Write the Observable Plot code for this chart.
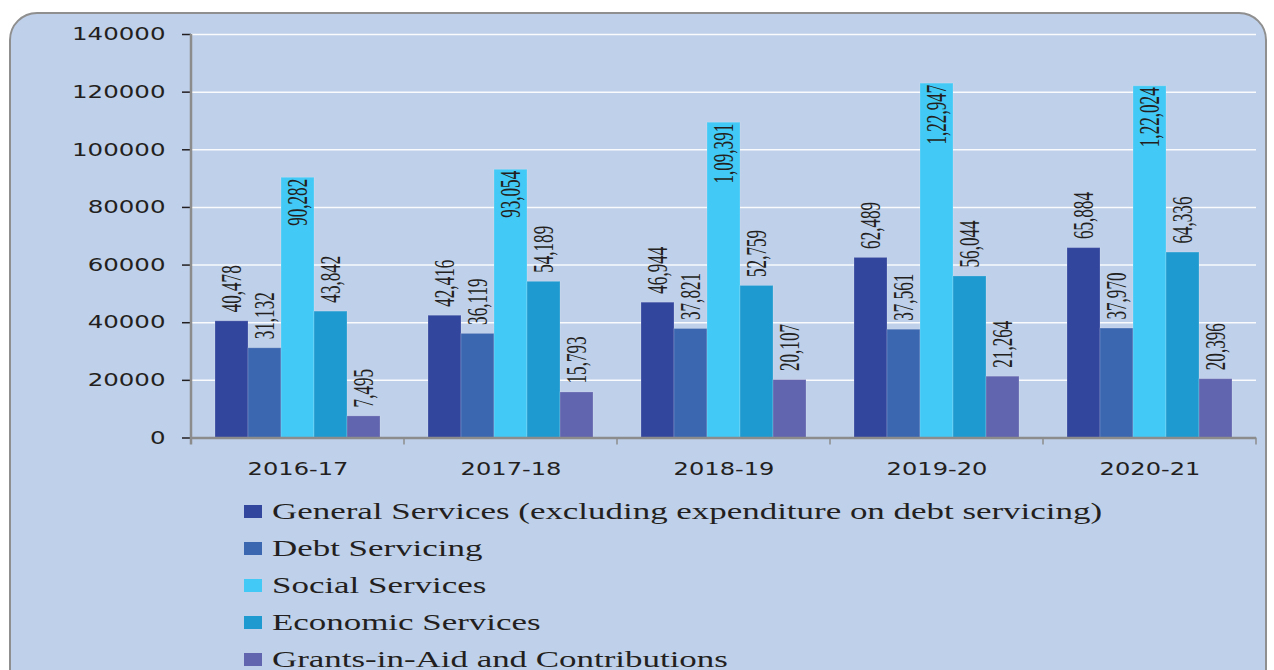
<!DOCTYPE html>
<html>
<head>
<meta charset="utf-8">
<script src="https://cdn.jsdelivr.net/npm/d3@7"></script>
<script src="https://cdn.jsdelivr.net/npm/@observablehq/plot@0.6"></script>
<style>
  html, body { margin: 0; padding: 0; background: #ffffff; width: 1274px; height: 670px; overflow: hidden; }
  #panel { position: absolute; left: 9px; top: 12px; width: 1258px; height: 700px; box-sizing: border-box;
           border: 2px solid #8f8f8f; border-radius: 28px; background: #bfd0ea; }
  #chart { position: absolute; left: 0; top: 0; }
  #legend { position: absolute; left: 244px; top: 493px; font-family: "Liberation Serif", "Times New Roman", serif;
            font-size: 24px; color: #231f20; }
  .row { position: relative; height: 37px; display: flex; align-items: center; }
  .sw { width: 18px; height: 13px; margin-right: 10px; flex: none; }
  .lab { display: inline-block; transform: scaleX(1.455); transform-origin: left center; white-space: nowrap; }
</style>
</head>
<body>
<div id="panel"></div>
<div id="chart"></div>
<div id="legend"></div>
<script>
const years = ["2016-17", "2017-18", "2018-19", "2019-20", "2020-21"];
const series = [
  "General Services (excluding expenditure on debt servicing)",
  "Debt Servicing",
  "Social Services",
  "Economic Services",
  "Grants-in-Aid and Contributions"
];
const generalServices = [40478, 42416, 46944, 62489, 65884];
const debtServicing   = [31132, 36119, 37821, 37561, 37970];
const socialServices  = [90282, 93054, 109391, 122947, 122024];
const economicServices = [43842, 54189, 52759, 56044, 64336];
const grantsInAid     = [7495, 15793, 20107, 21264, 20396];
const yTicks = [0, 20000, 40000, 60000, 80000, 100000, 120000, 140000];
const colors = ["#33469e", "#3b66b0", "#42c9f5", "#1f9ad0", "#6164ae"];

const seriesValues = [generalServices, debtServicing, socialServices, economicServices, grantsInAid];
const data = [];
years.forEach((yr, i) => {
  series.forEach((s, j) => data.push({year: yr, series: s, value: seriesValues[j][i], inside: j === 2}));
});

function fmtIN(n) {
  const s = String(n);
  if (s.length <= 3) return s;
  const last3 = s.slice(-3);
  const rest = s.slice(0, -3).replace(/\B(?=(\d{2})+(?!\d))/g, ",");
  return rest + "," + last3;
}

const labelFont = "Liberation Serif, Times New Roman, serif";

const plot = Plot.plot({
  width: 1274,
  height: 490,
  marginLeft: 189,
  marginRight: 16,
  marginTop: 34,
  marginBottom: 52.5,
  style: {background: "transparent", fontFamily: "DejaVu Sans, sans-serif", fontSize: "18px", color: "#231f20"},
  fx: {domain: years, padding: 0, label: null, tickSize: 0, tickPadding: 24},
  x: {domain: series, paddingInner: 0, paddingOuter: 0.72, axis: null},
  y: {domain: [0, 140000], ticks: yTicks, tickSize: 9, tickPadding: 17, label: null, tickFormat: d => String(d)},
  color: {domain: series, range: colors},
  marks: [
    Plot.gridY(yTicks.filter(d => d > 0), {stroke: "#ffffff", strokeOpacity: 0.9, strokeWidth: 1.5}),
    Plot.barY(data, {fx: "year", x: "series", y: "value", fill: "series", stroke: "#ffffff", strokeOpacity: 0.18, strokeWidth: 1}),
    Plot.text(data.filter(d => !d.inside), {fx: "year", x: "series", y: "value", text: d => fmtIN(d.value),
      rotate: -90, textAnchor: "start", dy: -9, fontSize: 29, fontFamily: labelFont, fill: "#231f20"}),
    Plot.text(data.filter(d => d.inside), {fx: "year", x: "series", y: "value", text: d => fmtIN(d.value),
      rotate: -90, textAnchor: "end", dy: 1, fontSize: 29, fontFamily: labelFont, fill: "#231f20"}),
    Plot.ruleY([0], {stroke: "#8c8c8c", strokeWidth: 2.5})
  ]
});
document.getElementById("chart").appendChild(plot);

// style axes
const svg = d3.select(plot);
svg.selectAll("[aria-label='y-axis tick']").attr("stroke", "#8c8c8c").attr("stroke-width", 1.5).attr("stroke-opacity", 1);

function stretch(sel, factor) {
  sel.each(function () {
    const L = this.getComputedTextLength();
    if (L > 0) {
      this.setAttribute("textLength", L * factor);
      this.setAttribute("lengthAdjust", "spacingAndGlyphs");
    }
  });
}
stretch(svg.selectAll("[aria-label='y-axis tick label'] text"), 1.36);
stretch(svg.selectAll("[aria-label='fx-axis tick label'] text"), 1.34);
stretch(svg.selectAll("g[aria-label='text'] text"), 0.59);

// y axis line and fx band-boundary ticks, from the plot's scales
const fx = plot.scale("fx");
const y = plot.scale("y");
const y0 = y.apply(0), yTop = y.apply(140000);
const x0 = fx.apply(years[0]);
const xEnd = fx.apply(years[years.length - 1]) + fx.bandwidth;
const g = svg.append("g").attr("stroke", "#8c8c8c");
g.append("line").attr("x1", x0).attr("x2", x0).attr("y1", yTop).attr("y2", y0 + 7).attr("stroke-width", 2.5);
const bounds = years.map(yr => fx.apply(yr)).concat([xEnd]);
g.selectAll("line.t").data(bounds.slice(1)).join("line")
  .attr("x1", d => d).attr("x2", d => d).attr("y1", y0).attr("y2", y0 + 7).attr("stroke-width", 1.5);

// legend
const leg = d3.select("#legend");
series.forEach((s, i) => {
  const row = leg.append("div").attr("class", "row");
  row.append("div").attr("class", "sw").style("background", colors[i]);
  row.append("span").attr("class", "lab").text(s);
});
</script>
</body>
</html>
